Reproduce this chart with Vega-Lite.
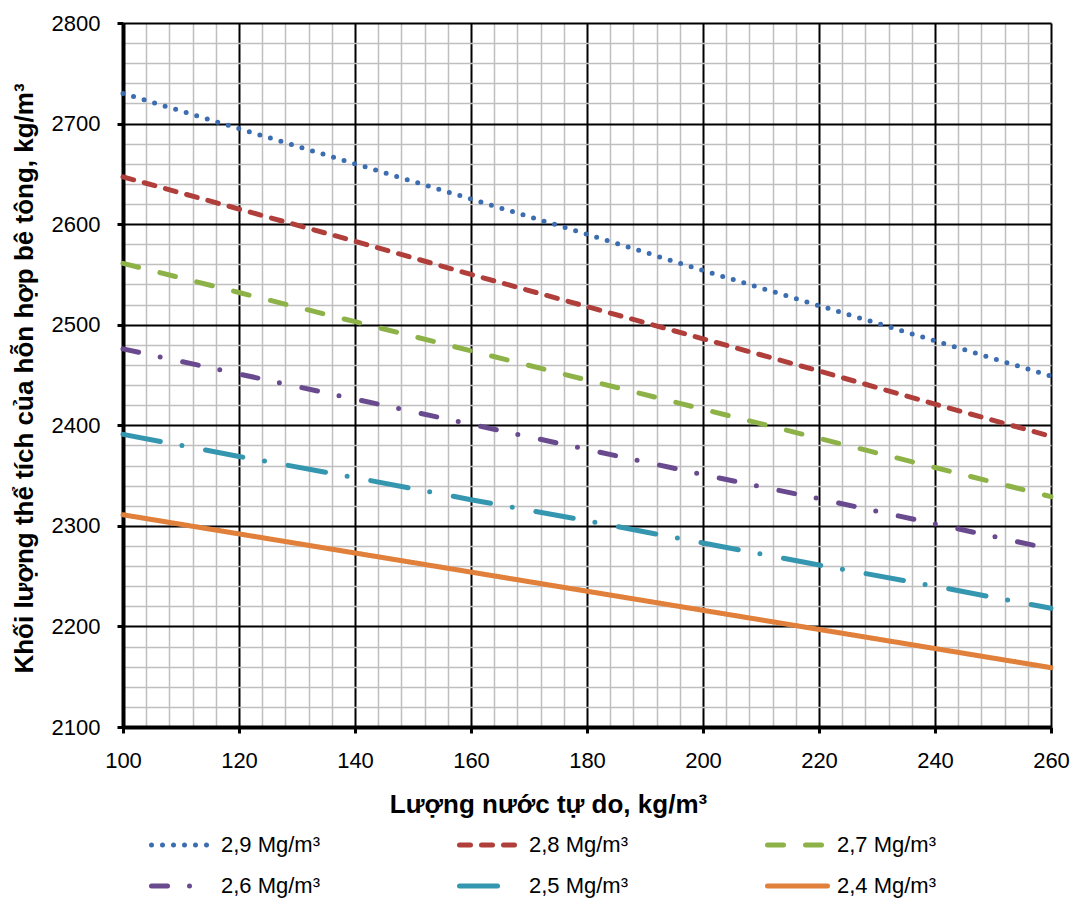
{
  "$schema": "https://vega.github.io/schema/vega-lite/v6.json",
  "width": 928,
  "height": 704,
  "autosize": "none",
  "padding": {"left": 123, "top": 23, "right": 20, "bottom": 174},
  "background": "white",
  "config": {"view": {"stroke": null}},
  "data": {"values": [
    {"series": "2,9 Mg/m³", "water": 100, "mass": 2730},
    {"series": "2,9 Mg/m³", "water": 120, "mass": 2695},
    {"series": "2,9 Mg/m³", "water": 140, "mass": 2660},
    {"series": "2,9 Mg/m³", "water": 160, "mass": 2625},
    {"series": "2,9 Mg/m³", "water": 180, "mass": 2590},
    {"series": "2,9 Mg/m³", "water": 200, "mass": 2554},
    {"series": "2,9 Mg/m³", "water": 220, "mass": 2519},
    {"series": "2,9 Mg/m³", "water": 240, "mass": 2484},
    {"series": "2,9 Mg/m³", "water": 260, "mass": 2449},
    {"series": "2,8 Mg/m³", "water": 100, "mass": 2647},
    {"series": "2,8 Mg/m³", "water": 120, "mass": 2615},
    {"series": "2,8 Mg/m³", "water": 140, "mass": 2583},
    {"series": "2,8 Mg/m³", "water": 160, "mass": 2550},
    {"series": "2,8 Mg/m³", "water": 180, "mass": 2518},
    {"series": "2,8 Mg/m³", "water": 200, "mass": 2486},
    {"series": "2,8 Mg/m³", "water": 220, "mass": 2454},
    {"series": "2,8 Mg/m³", "water": 240, "mass": 2421},
    {"series": "2,8 Mg/m³", "water": 260, "mass": 2389},
    {"series": "2,7 Mg/m³", "water": 100, "mass": 2561},
    {"series": "2,7 Mg/m³", "water": 120, "mass": 2532},
    {"series": "2,7 Mg/m³", "water": 140, "mass": 2503},
    {"series": "2,7 Mg/m³", "water": 160, "mass": 2474},
    {"series": "2,7 Mg/m³", "water": 180, "mass": 2445},
    {"series": "2,7 Mg/m³", "water": 200, "mass": 2416},
    {"series": "2,7 Mg/m³", "water": 220, "mass": 2387},
    {"series": "2,7 Mg/m³", "water": 240, "mass": 2358},
    {"series": "2,7 Mg/m³", "water": 260, "mass": 2329},
    {"series": "2,6 Mg/m³", "water": 100, "mass": 2476},
    {"series": "2,6 Mg/m³", "water": 120, "mass": 2451},
    {"series": "2,6 Mg/m³", "water": 140, "mass": 2426},
    {"series": "2,6 Mg/m³", "water": 160, "mass": 2401},
    {"series": "2,6 Mg/m³", "water": 180, "mass": 2376},
    {"series": "2,6 Mg/m³", "water": 200, "mass": 2351},
    {"series": "2,6 Mg/m³", "water": 220, "mass": 2327},
    {"series": "2,6 Mg/m³", "water": 240, "mass": 2302},
    {"series": "2,6 Mg/m³", "water": 260, "mass": 2277},
    {"series": "2,5 Mg/m³", "water": 100, "mass": 2391},
    {"series": "2,5 Mg/m³", "water": 120, "mass": 2369},
    {"series": "2,5 Mg/m³", "water": 140, "mass": 2348},
    {"series": "2,5 Mg/m³", "water": 160, "mass": 2326},
    {"series": "2,5 Mg/m³", "water": 180, "mass": 2305},
    {"series": "2,5 Mg/m³", "water": 200, "mass": 2283},
    {"series": "2,5 Mg/m³", "water": 220, "mass": 2261},
    {"series": "2,5 Mg/m³", "water": 240, "mass": 2240},
    {"series": "2,5 Mg/m³", "water": 260, "mass": 2218},
    {"series": "2,4 Mg/m³", "water": 100, "mass": 2311},
    {"series": "2,4 Mg/m³", "water": 120, "mass": 2292},
    {"series": "2,4 Mg/m³", "water": 140, "mass": 2273},
    {"series": "2,4 Mg/m³", "water": 160, "mass": 2254},
    {"series": "2,4 Mg/m³", "water": 180, "mass": 2235},
    {"series": "2,4 Mg/m³", "water": 200, "mass": 2216},
    {"series": "2,4 Mg/m³", "water": 220, "mass": 2197},
    {"series": "2,4 Mg/m³", "water": 240, "mass": 2178},
    {"series": "2,4 Mg/m³", "water": 260, "mass": 2159}
  ]},
  "mark": {"type": "line", "strokeWidth": 5, "strokeCap": "round", "clip": false},
  "encoding": {
    "x": {
      "field": "water", "type": "quantitative",
      "scale": {"domain": [100, 260], "nice": false, "zero": false},
      "axis": {
        "title": "Lượng nước tự do, kg/m³",
        "values": [100,104,108,112,116,120,124,128,132,136,140,144,148,152,156,160,164,168,172,176,180,184,188,192,196,200,204,208,212,216,220,224,228,232,236,240,244,248,252,256,260],
        "format": "d",
        "labelExpr": "datum.value % 20 === 0 ? datum.label : ''",
        "grid": true,
        "gridColor": {"condition": {"test": "datum.value % 20 === 0", "value": "#000000"}, "value": "#BFBFBF"},
        "gridWidth": {"condition": {"test": "datum.value % 20 === 0", "value": 2}, "value": 1.5},
        "gridOpacity": 1,
        "ticks": true,
        "tickColor": {"condition": {"test": "datum.value % 20 === 0", "value": "#000000"}, "value": "transparent"},
        "tickSize": 6,
        "tickWidth": 3,
        "domain": true,
        "domainColor": "#000000",
        "domainWidth": 4,
        "labelFont": "Liberation Sans",
        "labelFontSize": 22,
        "labelColor": "#000000",
        "labelPadding": 17,
        "labelOverlap": false,
        "labelFlush": false,
        "titleFont": "Liberation Sans",
        "titleFontSize": 26,
        "titleFontWeight": "bold",
        "titleColor": "#000000",
        "titleX": 425,
        "titleY": 77,
        "titleAlign": "center",
        "titleBaseline": "middle"
      }
    },
    "y": {
      "field": "mass", "type": "quantitative",
      "scale": {"domain": [2100, 2800], "nice": false, "zero": false},
      "axis": {
        "title": "Khối lượng thể tích của hỗn hợp bê tông, kg/m³",
        "values": [2100,2120,2140,2160,2180,2200,2220,2240,2260,2280,2300,2320,2340,2360,2380,2400,2420,2440,2460,2480,2500,2520,2540,2560,2580,2600,2620,2640,2660,2680,2700,2720,2740,2760,2780,2800],
        "format": "d",
        "labelExpr": "datum.value % 100 === 0 ? datum.label : ''",
        "grid": true,
        "gridColor": {"condition": {"test": "datum.value % 100 === 0", "value": "#000000"}, "value": "#BFBFBF"},
        "gridWidth": {"condition": {"test": "datum.value % 100 === 0", "value": 2}, "value": 1.5},
        "gridOpacity": 1,
        "ticks": true,
        "tickColor": {"condition": {"test": "datum.value % 100 === 0", "value": "#000000"}, "value": "transparent"},
        "tickSize": 6,
        "tickWidth": 3,
        "domain": true,
        "domainColor": "#000000",
        "domainWidth": 4,
        "labelFont": "Liberation Sans",
        "labelFontSize": 22,
        "labelColor": "#000000",
        "labelPadding": 17,
        "labelOverlap": false,
        "labelFlush": false,
        "titleFont": "Liberation Sans",
        "titleFontSize": 26,
        "titleFontWeight": "bold",
        "titleColor": "#000000",
        "titleAngle": -90,
        "titleX": -99,
        "titleY": 355,
        "titleAlign": "center",
        "titleBaseline": "middle"
      }
    },
    "color": {
      "field": "series", "type": "nominal",
      "scale": {
        "domain": ["2,9 Mg/m³", "2,8 Mg/m³", "2,7 Mg/m³", "2,6 Mg/m³", "2,5 Mg/m³", "2,4 Mg/m³"],
        "range": ["#3C6DB0", "#B03E3B", "#8DB247", "#6A4A8F", "#3596B0", "#E0803A"]
      },
      "legend": {
        "title": null, "orient": "none", "legendX": 26, "legendY": 811,
        "direction": "horizontal", "columns": 3, "columnPadding": 136, "rowPadding": 19,
        "symbolType": "stroke", "symbolSize": 3600, "symbolStrokeWidth": 5, "clipHeight": 22,
        "labelOffset": 7, "labelFont": "Liberation Sans", "labelFontSize": 22, "labelColor": "#000000",
        "labelLimit": 0, "padding": 0, "gridAlign": "each",
        "encode": {"symbols": {"update": {"strokeCap": {"value": "round"}}}}
      }
    },
    "strokeDash": {
      "field": "series", "type": "nominal",
      "scale": {
        "domain": ["2,9 Mg/m³", "2,8 Mg/m³", "2,7 Mg/m³", "2,6 Mg/m³", "2,5 Mg/m³", "2,4 Mg/m³"],
        "range": [[0, 11], [11, 11], [16, 22], [16, 22, 0, 23], [38, 22, 0, 24], [1, 0]]
      },
      "legend": {
        "title": null, "orient": "none", "legendX": 26, "legendY": 811,
        "direction": "horizontal", "columns": 3, "columnPadding": 136, "rowPadding": 19,
        "symbolType": "stroke", "symbolSize": 3600, "symbolStrokeWidth": 5, "clipHeight": 22,
        "labelOffset": 7, "labelFont": "Liberation Sans", "labelFontSize": 22, "labelColor": "#000000",
        "labelLimit": 0, "padding": 0, "gridAlign": "each",
        "encode": {"symbols": {"update": {"strokeCap": {"value": "round"}}}}
      }
    }
  }
}
